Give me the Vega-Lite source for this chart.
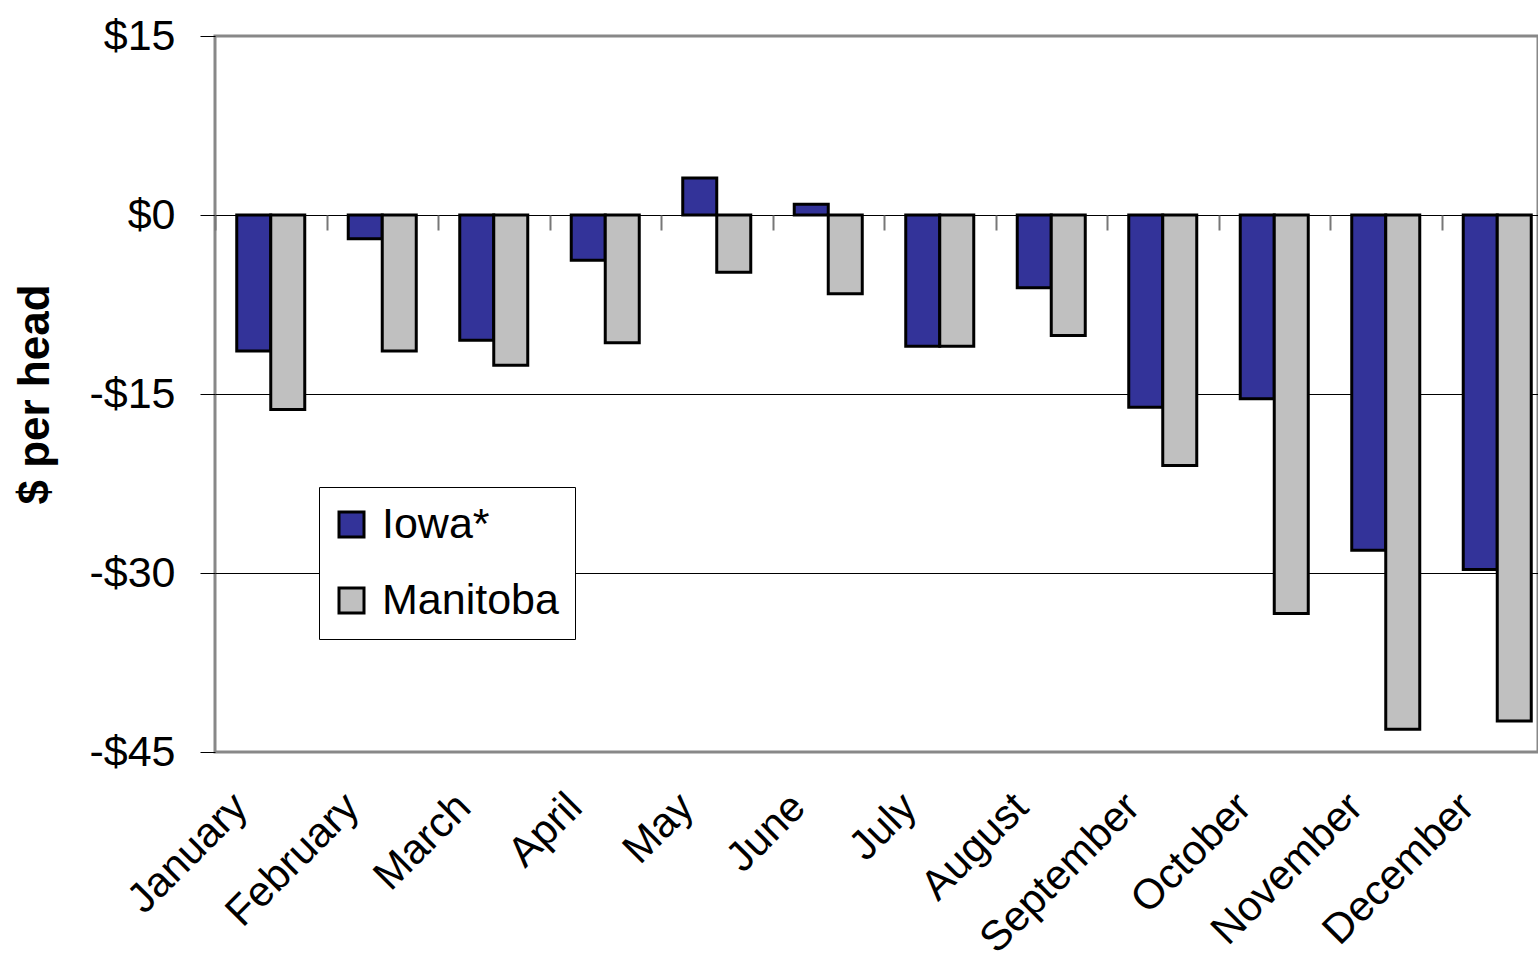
{
  "$schema": "https://vega.github.io/schema/vega-lite/v6.json",
  "width": 1323,
  "height": 716,
  "autosize": {"type": "none"},
  "padding": {"left": 215, "top": 36, "right": 0, "bottom": 212},
  "background": "white",
  "config": {
    "view": {"stroke": "#888888", "strokeWidth": 3},
    "font": "Liberation Sans"
  },
  "data": {
    "values": [
      {"month": "January", "region": "Iowa*", "value": -11.4},
      {"month": "January", "region": "Manitoba", "value": -16.3},
      {"month": "February", "region": "Iowa*", "value": -2.0},
      {"month": "February", "region": "Manitoba", "value": -11.4},
      {"month": "March", "region": "Iowa*", "value": -10.5},
      {"month": "March", "region": "Manitoba", "value": -12.6},
      {"month": "April", "region": "Iowa*", "value": -3.8},
      {"month": "April", "region": "Manitoba", "value": -10.7},
      {"month": "May", "region": "Iowa*", "value": 3.1},
      {"month": "May", "region": "Manitoba", "value": -4.8},
      {"month": "June", "region": "Iowa*", "value": 0.9},
      {"month": "June", "region": "Manitoba", "value": -6.6},
      {"month": "July", "region": "Iowa*", "value": -11.0},
      {"month": "July", "region": "Manitoba", "value": -11.0},
      {"month": "August", "region": "Iowa*", "value": -6.1},
      {"month": "August", "region": "Manitoba", "value": -10.1},
      {"month": "September", "region": "Iowa*", "value": -16.1},
      {"month": "September", "region": "Manitoba", "value": -21.0},
      {"month": "October", "region": "Iowa*", "value": -15.4},
      {"month": "October", "region": "Manitoba", "value": -33.4},
      {"month": "November", "region": "Iowa*", "value": -28.1},
      {"month": "November", "region": "Manitoba", "value": -43.1},
      {"month": "December", "region": "Iowa*", "value": -29.7},
      {"month": "December", "region": "Manitoba", "value": -42.4}
    ]
  },
  "layer": [
    {
      "mark": {"type": "bar", "stroke": "black", "strokeWidth": 3},
      "encoding": {
        "x": {
          "field": "month",
          "type": "nominal",
          "sort": null,
          "scale": {"range": [0, 1338], "paddingInner": 0.39, "paddingOuter": 0.195},
          "axis": {
            "orient": "bottom",
            "title": null,
            "domain": false,
            "ticks": false,
            "grid": false,
            "labelAngle": -45,
            "labelAlign": "right",
            "labelBaseline": "middle",
            "labelFontSize": 42,
            "labelColor": "black",
            "labelLimit": 0,
            "labelPadding": 48,
            "labelOffset": -30
          }
        },
        "xOffset": {"field": "region", "type": "nominal", "sort": ["Iowa*", "Manitoba"]},
        "y": {
          "field": "value",
          "type": "quantitative",
          "scale": {"domain": [-45, 15], "nice": false, "zero": false},
          "axis": {
            "values": [15, 0, -15, -30, -45],
            "labelExpr": "datum.value < 0 ? '-$' + abs(datum.value) : '$' + datum.value",
            "labelFontSize": 43,
            "labelColor": "black",
            "labelPadding": 25,
            "tickColor": "black",
            "tickSize": 15,
            "tickWidth": 1,
            "domain": false,
            "grid": true,
            "gridColor": {"condition": {"test": "datum.value === 15 || datum.value === -45", "value": "transparent"}, "value": "black"},
            "gridWidth": 1,
            "title": "$ per head",
            "titleFontSize": 44,
            "titleFontWeight": "bold",
            "titleColor": "black",
            "titleAngle": -90,
            "titleAlign": "center",
            "titleBaseline": "middle",
            "titleX": -180,
            "titleY": 358
          }
        },
        "color": {
          "field": "region",
          "type": "nominal",
          "scale": {"domain": ["Iowa*", "Manitoba"], "range": ["#333399", "#C0C0C0"]},
          "legend": {
            "orient": "none",
            "legendX": 104,
            "legendY": 451,
            "title": null,
            "labelFontSize": 43,
            "labelColor": "black",
            "labelLimit": 0,
            "symbolType": "square",
            "symbolSize": 625,
            "symbolStrokeColor": "black",
            "symbolStrokeWidth": 3,
            "symbolOpacity": 1,
            "symbolOffset": -5,
            "padding": 16,
            "rowPadding": 32,
            "labelOffset": 9,
            "fillColor": "white",
            "strokeColor": "black"
          }
        }
      }
    },
    {
      "mark": {"type": "bar", "opacity": 0},
      "encoding": {
        "x": {
          "field": "month",
          "type": "nominal",
          "sort": null,
          "axis": {
            "orient": "bottom",
            "offset": -537,
            "zindex": 1,
            "title": null,
            "labels": false,
            "domain": false,
            "grid": false,
            "ticks": true,
            "tickOffset": -55.75,
            "tickColor": "#777777",
            "tickOpacity": 1,
            "tickWidth": 2,
            "tickSize": 15
          }
        }
      }
    }
  ],
  "resolve": {"axis": {"x": "independent"}}
}
